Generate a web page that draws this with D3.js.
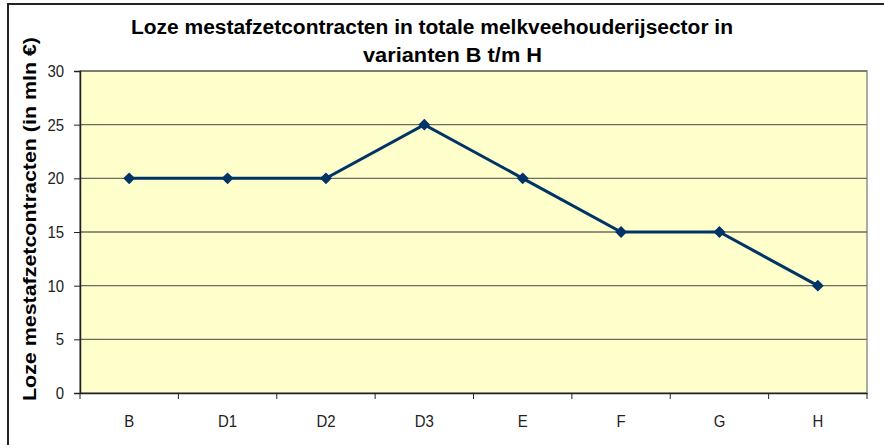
<!DOCTYPE html>
<html>
<head>
<meta charset="utf-8">
<script src="https://cdn.jsdelivr.net/npm/d3@7"></script>
<style>
  body { margin: 0; background: #fff; }
  svg { display: block; }
</style>
</head>
<body>
<figure id="chart" style="margin:0"></figure>
<script>
// data
const categories = ["B", "D1", "D2", "D3", "E", "F", "G", "H"];
const values = [20, 20, 20, 25, 20, 15, 15, 10];
const yTicks = [0, 5, 10, 15, 20, 25, 30];
const titleLines = ["Loze mestafzetcontracten in totale melkveehouderijsector in", "varianten B t/m H"];
const yTitle = "Loze mestafzetcontracten (in mln €)";

const W = 884, H = 445;
const plot = { left: 80, top: 71, right: 867, bottom: 393 };
const tickFont = "'Liberation Sans', Arial, sans-serif";

const svg = d3.select("figure#chart")
  .append("svg")
  .attr("width", W)
  .attr("height", H);

// outer chart border (runs off the right/bottom edge)
svg.append("rect")
  .attr("x", 8).attr("y", 4)
  .attr("width", W + 20).attr("height", H + 20)
  .attr("fill", "#fff")
  .attr("stroke", "#222")
  .attr("stroke-width", 2);

const x = d3.scaleBand()
  .domain(categories)
  .range([plot.left, plot.right]);

const y = d3.scaleLinear()
  .domain([0, 30])
  .range([plot.bottom, plot.top]);

// plot area
svg.append("rect")
  .attr("x", plot.left).attr("y", plot.top)
  .attr("width", plot.right - plot.left)
  .attr("height", plot.bottom - plot.top)
  .attr("fill", "#FFFFCC")
  .attr("stroke", "#909090")
  .attr("stroke-width", 1.5);

// gridlines
svg.append("g")
  .selectAll("line")
  .data(yTicks.filter(d => d > 0))
  .enter()
  .append("line")
  .attr("x1", plot.left).attr("x2", plot.right)
  .attr("y1", d => y(d)).attr("y2", d => y(d))
  .attr("stroke", "#6e6e5c")
  .attr("stroke-width", 1.4);

// squeeze tick labels horizontally a bit, like the narrow font of the original
function narrow(sel, ax) {
  sel.each(function () {
    const t = d3.select(this);
    const bb = this.getBBox();
    const cx = ax === "end" ? bb.x + bb.width : bb.x + bb.width / 2;
    t.attr("transform", "translate(" + cx + ",0) scale(0.88,1) translate(" + (-cx) + ",0)");
  });
}

// Y axis
const yAxis = svg.append("g")
  .attr("transform", "translate(" + plot.left + ",0)")
  .call(d3.axisLeft(y).tickValues(yTicks).tickSize(6).tickPadding(10));
yAxis.select(".domain").attr("stroke", "#222").attr("stroke-width", 1.5);
yAxis.selectAll(".tick line").attr("stroke", "#222");
yAxis.selectAll("text")
  .style("font", "17px " + tickFont)
  .attr("fill", "#222")
  .call(narrow, "end");

// X axis, ticks at category boundaries
const xAxis = svg.append("g")
  .attr("transform", "translate(0," + plot.bottom + ")")
  .call(d3.axisBottom(x).tickSize(0).tickPadding(22));
xAxis.select(".domain").attr("stroke", "#222").attr("stroke-width", 1.5);
xAxis.selectAll("text")
  .style("font", "17px " + tickFont)
  .attr("fill", "#222")
  .call(narrow, "middle");
xAxis.selectAll(".bound")
  .data(categories.map(c => x(c)).concat([plot.right]))
  .enter()
  .append("line")
  .attr("x1", d => d).attr("x2", d => d)
  .attr("y1", 0).attr("y2", 6)
  .attr("stroke", "#222");

// series line
const line = d3.line()
  .x((d, i) => x(categories[i]) + x.bandwidth() / 2)
  .y(d => y(d));

svg.append("path")
  .datum(values)
  .attr("d", line)
  .attr("fill", "none")
  .attr("stroke", "#003366")
  .attr("stroke-width", 3);

svg.append("g")
  .selectAll("path")
  .data(values)
  .enter()
  .append("path")
  .attr("d", d3.symbol().type(d3.symbolDiamond2).size(90))
  .attr("transform", (d, i) => "translate(" + (x(categories[i]) + x.bandwidth() / 2) + "," + y(d) + ")")
  .attr("fill", "#003366");

// title
svg.append("text")
  .attr("x", 131).attr("y", 34)
  .attr("textLength", 602)
  .attr("lengthAdjust", "spacingAndGlyphs")
  .style("font", "bold 20px 'Liberation Sans', Arial, sans-serif")
  .attr("fill", "#000")
  .text(titleLines[0]);
svg.append("text")
  .attr("x", 363).attr("y", 62)
  .attr("textLength", 179)
  .attr("lengthAdjust", "spacingAndGlyphs")
  .style("font", "bold 20px 'Liberation Sans', Arial, sans-serif")
  .attr("fill", "#000")
  .text(titleLines[1]);

// y axis title
svg.append("text")
  .attr("transform", "translate(36,401) rotate(-90)")
  .attr("textLength", 364)
  .attr("lengthAdjust", "spacingAndGlyphs")
  .style("font", "bold 19px 'Liberation Sans', Arial, sans-serif")
  .attr("fill", "#000")
  .text(yTitle);
</script>
</body>
</html>
